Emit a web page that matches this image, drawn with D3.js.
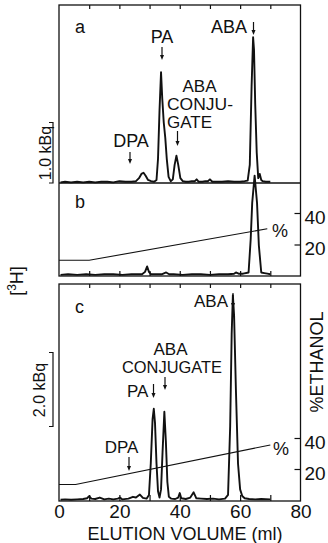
<!DOCTYPE html>
<html><head><meta charset="utf-8">
<script src="https://cdn.jsdelivr.net/npm/d3@7"></script>
<style>
body{margin:0;background:#fff}
svg{display:block}
text{font-family:"Liberation Sans",Arial,sans-serif;fill:#111}
</style>
</head><body>
<svg id="chart" width="328" height="543"></svg>
<script>
// ---------- DATA ----------
// Panel a: elution volume (ml) and radioactivity (kBq)
const mlA  = [0.5,2,4,6,8,10,12,14,16,18,20,22,24,25.5,26.5,27.3,28,28.7,29.5,30.5,31.5,32.3,32.8,33.3,33.8,34.2,34.7,35.2,35.7,36.3,37,37.7,38.3,38.9,39.5,40.2,41,42,43,44,45,45.6,46.3,47.5,48.5,49.3,50,50.8,52,54,56,58,60,61.5,62.5,63.2,63.8,64.3,64.6,65,65.5,66,66.5,67,67.5,68.5,70];
const kbqA = [0.01,0.02,0.01,0.02,0.01,0.02,0.01,0.02,0.02,0.01,0.03,0.02,0.02,0.03,0.08,0.15,0.17,0.12,0.05,0.03,0.02,0.05,0.4,1.2,1.83,1.4,1.0,0.75,0.4,0.1,0.03,0.06,0.3,0.45,0.3,0.08,0.03,0.02,0.02,0.03,0.03,0.06,0.02,0.02,0.03,0.03,0.06,0.02,0.02,0.02,0.03,0.02,0.02,0.03,0.04,0.3,1.6,2.41,2.2,1.3,0.5,0.08,0.15,0.05,0.03,0.02,0.02];
// Panel b
const mlB  = [0.5,3,6,9,12,15,18,21,24,26,27.5,28.5,29.2,29.8,30.5,32,34,35.5,36.5,38,41,44,47,50,53,56,58,58.6,59.5,61,62.8,63.5,64,64.8,65.6,66.2,67,68,69,70];
const kbqB = [0.01,0.02,0.01,0.02,0.01,0.02,0.02,0.01,0.02,0.02,0.02,0.06,0.15,0.06,0.02,0.02,0.02,0.05,0.02,0.02,0.01,0.02,0.02,0.01,0.02,0.02,0.03,0.05,0.03,0.03,0.05,0.6,1.2,1.65,1.2,0.5,0.05,0.04,0.03,0.02];
// Panel c
const mlC  = [0.5,2,4,6,8,9.3,10,10.7,12,13.5,15,16.5,18,19.5,20.2,21,23,24.5,25.5,26.8,27.8,29,29.8,30.4,31,31.4,31.8,32.3,32.8,33.3,33.8,34.3,34.9,35.4,35.9,36.4,37.2,38.5,39.5,40,40.5,42,43.5,44.6,45.5,47,49,51,53,55,56,56.7,57.2,57.6,58,58.6,59.3,60,60.7,61.5,63,65,67,70];
const kbqC = [0.02,0.03,0.02,0.03,0.04,0.06,0.12,0.05,0.04,0.08,0.03,0.05,0.03,0.05,0.08,0.03,0.05,0.1,0.08,0.16,0.07,0.05,0.15,1.0,2.2,2.48,2.1,1.0,0.25,0.08,0.3,1.3,2.4,1.6,0.5,0.1,0.05,0.04,0.08,0.2,0.06,0.04,0.08,0.22,0.06,0.05,0.04,0.05,0.03,0.05,0.15,2.0,4.5,5.55,5.0,3.0,1.0,0.3,0.12,0.06,0.04,0.03,0.04,0.03];
// Ethanol gradient (% ethanol vs ml)
const gradMlB  = [0,10,69];
const gradPctB = [10,10,30];
const gradMlC  = [0,5.5,70];
const gradPctC = [10,10,35.5];
// Tick labels
const xTickLabels = [0,20,40,60,80];
const xMinorTicks = [10,20,30,40,50,60,70];
const pctTicks = [20,40];

// ---------- LAYOUT ----------
const svg = d3.select("#chart");
const L = 59, R = 300.5;
const aTop = 5, aBot = 183, bTop = 183, bBot = 276, cTop = 284, cBot = 501;

const x  = d3.scaleLinear().domain([0,80]).range([L,R]);
const yA = d3.scaleLinear().domain([0,1]).range([aBot,aBot-60.5]);
const yB = d3.scaleLinear().domain([0,1]).range([bBot-0.5,bBot-61]);
const yC = d3.scaleLinear().domain([0,2]).range([cBot-0.5,cBot-74.5]);
const pB = d3.scaleLinear().domain([0,40]).range([bBot,213]);
const pC = d3.scaleLinear().domain([0,40]).range([500,438]);

const ink = "#111";

// Frames
svg.append("rect").attr("x",L).attr("y",aTop).attr("width",R-L).attr("height",bBot-aTop)
  .attr("fill","none").attr("stroke",ink).attr("stroke-width",1.3);
svg.append("line").attr("x1",L).attr("x2",R).attr("y1",aBot).attr("y2",aBot)
  .attr("stroke",ink).attr("stroke-width",1.3);
svg.append("rect").attr("x",L).attr("y",cTop).attr("width",R-L).attr("height",cBot-cTop)
  .attr("fill","none").attr("stroke",ink).attr("stroke-width",1.3);

function tickAxis(gen, y){
  const g = svg.append("g").attr("transform",`translate(0,${y})`).call(gen);
  g.select(".domain").remove();
  g.selectAll("line").attr("stroke",ink).attr("stroke-width",1.2);
  return g;
}
tickAxis(d3.axisTop(x).tickValues(xMinorTicks).tickSize(-4).tickFormat(""), aTop);
tickAxis(d3.axisBottom(x).tickValues(xMinorTicks).tickSize(-5).tickFormat(""), bBot);
tickAxis(d3.axisTop(x).tickValues(xMinorTicks).tickSize(-4).tickFormat(""), cTop);
tickAxis(d3.axisBottom(x).tickValues(xMinorTicks).tickSize(-6).tickFormat(""), cBot);
const xl = tickAxis(d3.axisBottom(x).tickValues(xTickLabels).tickSize(0).tickPadding(4).tickFormat(d3.format("d")), cBot);
xl.selectAll("text").attr("font-size",19).attr("font-family","Liberation Sans, Arial, sans-serif").attr("fill",ink);

function rightAxis(scale){
  const g = svg.append("g").attr("transform",`translate(${R},0)`)
    .call(d3.axisRight(scale).tickValues(pctTicks).tickSize(-6).tickPadding(4));
  g.select(".domain").remove();
  g.selectAll("line").attr("stroke",ink).attr("stroke-width",1.2);
  g.selectAll("text").attr("font-size",19).attr("dy","0.55em")
    .attr("font-family","Liberation Sans, Arial, sans-serif").attr("fill",ink);
}
rightAxis(pB); rightAxis(pC);

// Traces
function trace(mls, vals, ys){
  const pts = mls.map((m,i)=>[m, vals[i]]);
  svg.append("path").datum(pts)
    .attr("d", d3.line().x(d=>x(d[0])).y(d=>ys(d[1])))
    .attr("fill","none").attr("stroke",ink).attr("stroke-width",1.9).attr("stroke-linejoin","round");
}
trace(mlA,kbqA,yA); trace(mlB,kbqB,yB); trace(mlC,kbqC,yC);

function grad(mls,pcts,ps){
  svg.append("path").datum(mls.map((m,i)=>[m,pcts[i]]))
    .attr("d", d3.line().x(d=>x(d[0])).y(d=>ps(d[1])))
    .attr("fill","none").attr("stroke",ink).attr("stroke-width",1.1);
}
grad(gradMlB,gradPctB,pB); grad(gradMlC,gradPctC,pC);

// Scale bars
function bracket(xp, y1, y2){
  svg.append("path").attr("d",`M${xp-4},${y1}H${xp}V${y2}H${xp-4}`)
    .attr("fill","none").attr("stroke",ink).attr("stroke-width",1.2);
}
bracket(53, yA(1), yA(0));
bracket(53, yC(4), yC(2));

// Text helpers
function txt(s, xp, yp, opts={}){
  const t = svg.append("text").attr("x",xp).attr("y",yp).text(s)
    .attr("font-size",opts.size||18).attr("text-anchor",opts.anchor||"start");
  if(opts.len) t.attr("textLength",opts.len).attr("lengthAdjust","spacingAndGlyphs");
  return t;
}
function arrow(xp, y1, y2){
  svg.append("line").attr("x1",xp).attr("x2",xp).attr("y1",y1).attr("y2",y2-3)
    .attr("stroke",ink).attr("stroke-width",1.2);
  svg.append("path").attr("d",`M${xp-2},${y2-5}L${xp+2},${y2-5}L${xp},${y2}Z`).attr("fill",ink);
}

// Panel a annotations
txt("a",75,33);
txt("PA",162,43,{anchor:"middle"}); arrow(162,47,60);
txt("ABA",247,33,{anchor:"end"}); arrow(253.5,22,35);
txt("ABA",199.5,92,{anchor:"middle",size:17});
txt("CONJU-",167,110,{size:17,len:66});
txt("GATE",167,128,{size:17,len:45});
arrow(177.5,131,146);
txt("DPA",131,147,{anchor:"middle"}); arrow(130,152,164);

// Panel b
txt("b",75,208);
txt("%",272,237);

// Panel c
txt("c",75,313);
txt("ABA",228,307,{anchor:"end",size:17}); arrow(233,293,308);
txt("ABA",170.5,355,{anchor:"middle",size:17});
txt("CONJUGATE",122,373,{size:17,len:100});
txt("PA",127,397,{size:17}); arrow(153.5,384,398);
arrow(165,377,390);
txt("DPA",121.5,453,{anchor:"middle",size:17}); arrow(129,457,471);
txt("%",273,455);

// Axis titles
txt("ELUTION  VOLUME (ml)",185,540,{anchor:"middle"});
svg.append("text").attr("transform","translate(45,153) rotate(-90)")
  .attr("text-anchor","middle").attr("dominant-baseline","central").attr("font-size",16).text("1.0 kBq");
svg.append("text").attr("transform","translate(39,390) rotate(-90)")
  .attr("text-anchor","middle").attr("dominant-baseline","central").attr("font-size",16).text("2.0 kBq");
const h3 = svg.append("text").attr("transform","translate(17,281) rotate(-90)")
  .attr("text-anchor","middle").attr("dominant-baseline","central").attr("font-size",18);
h3.append("tspan").text("[");
h3.append("tspan").text("3").attr("font-size",12).attr("dy","-0.45em");
h3.append("tspan").text("H]").attr("dy","0.3em");
svg.append("text").attr("transform","translate(317,362) rotate(-90)")
  .attr("text-anchor","middle").attr("dominant-baseline","central").attr("font-size",18).text("%ETHANOL");
</script>
</body></html>
